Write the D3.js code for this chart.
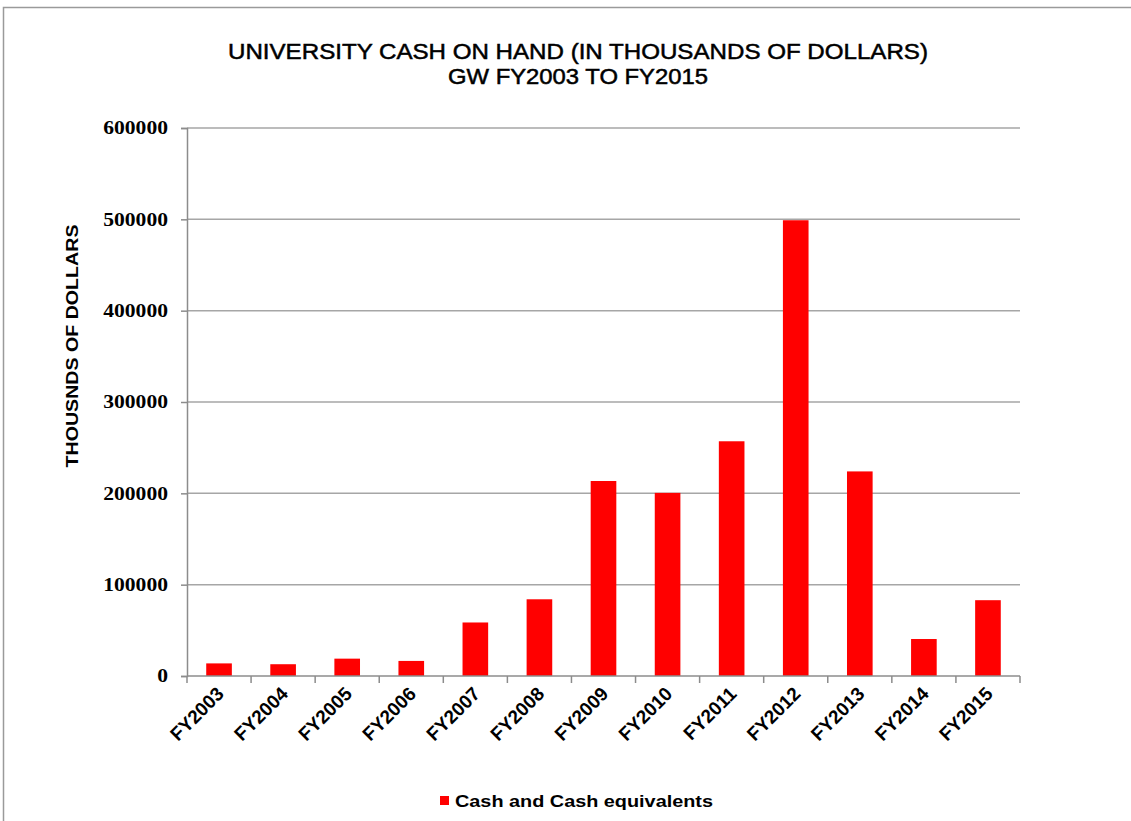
<!DOCTYPE html>
<html>
<head>
<meta charset="utf-8">
<script src="https://cdn.jsdelivr.net/npm/d3@7"></script>
<style>
    body { margin: 0; background: #fff; }
    svg { display: block; }
</style>
</head>
<body>
<script>
//chart data
var years = ["FY2003", "FY2004", "FY2005", "FY2006", "FY2007", "FY2008", "FY2009",
    "FY2010", "FY2011", "FY2012", "FY2013", "FY2014", "FY2015"];
var cashValues = [13800, 12900, 19000, 16500, 58600, 84000, 213500,
    200500, 257000, 499000, 224000, 40500, 83000];
var yTicks = [0, 100000, 200000, 300000, 400000, 500000, 600000];
var titleLines = ["UNIVERSITY CASH ON HAND (IN THOUSANDS OF DOLLARS)", "GW FY2003 TO FY2015"];
var seriesName = "Cash and Cash equivalents";

window.onload = drawChart();

function drawChart(){
    var width = 1131,
        height = 821,
        left = 187,
        right = 1020,
        top = 128,
        bottom = 676;

    var svg = d3.select("body")
        .append("svg")
        .attr("width", width)
        .attr("height", height);

    //outer frame
    svg.append("rect")
        .attr("x", 3.5)
        .attr("y", 7.5)
        .attr("width", 1140)
        .attr("height", 830)
        .attr("fill", "none")
        .attr("stroke", "#9a9a9a")
        .attr("stroke-width", 1.5);

    //scales
    var x = d3.scaleBand()
        .domain(years)
        .range([left, right])
        .paddingInner(0.6)
        .paddingOuter(0.3);

    var yScale = d3.scaleLinear()
        .domain([0, 600000])
        .range([bottom, top]);

    //gridlines
    svg.selectAll(".grid")
        .data(yTicks.slice(1))
        .enter()
        .append("line")
        .attr("class", "grid")
        .attr("x1", left)
        .attr("x2", right)
        .attr("y1", function(d){ return yScale(d); })
        .attr("y2", function(d){ return yScale(d); })
        .attr("stroke", "#a6a6a6")
        .attr("stroke-width", 1.5);

    //bars
    svg.selectAll(".bar")
        .data(cashValues)
        .enter()
        .append("rect")
        .attr("class", "bar")
        .attr("x", function(d, i){ return x(years[i]); })
        .attr("width", x.bandwidth())
        .attr("y", function(d){ return yScale(d); })
        .attr("height", function(d){ return bottom - yScale(d); })
        .attr("fill", "#ff0000");

    //y axis
    var yAxis = d3.axisLeft(yScale)
        .tickValues(yTicks)
        .tickFormat(d3.format("d"))
        .tickSize(6)
        .tickPadding(13);

    var yG = svg.append("g")
        .attr("transform", "translate(" + left + ",0)")
        .call(yAxis);
    yG.select(".domain").attr("stroke", "#8c8c8c").attr("stroke-width", 1.5);
    yG.selectAll(".tick line").attr("stroke", "#8c8c8c").attr("stroke-width", 1.5);
    yG.selectAll(".tick text")
        .attr("font-family", "'Liberation Serif', 'Times New Roman', serif")
        .attr("font-weight", "bold")
        .attr("font-size", 18)
        .attr("fill", "#000")
        .attr("textLength", function(d){ return String(d).length * 10.8; })
        .attr("lengthAdjust", "spacingAndGlyphs");

    //x axis with ticks on category boundaries
    var xG = svg.append("g")
        .attr("transform", "translate(0," + bottom + ")");
    xG.append("line")
        .attr("x1", left)
        .attr("x2", right)
        .attr("stroke", "#8c8c8c")
        .attr("stroke-width", 1.5);
    var step = (right - left) / years.length;
    xG.selectAll(".xtick")
        .data(d3.range(years.length + 1))
        .enter()
        .append("line")
        .attr("class", "xtick")
        .attr("x1", function(d){ return left + d * step; })
        .attr("x2", function(d){ return left + d * step; })
        .attr("y1", 0)
        .attr("y2", 7)
        .attr("stroke", "#8c8c8c")
        .attr("stroke-width", 1.5);
    xG.selectAll(".xlabel")
        .data(years)
        .enter()
        .append("text")
        .attr("class", "xlabel")
        .attr("text-anchor", "end")
        .attr("transform", function(d){
            var cx = x(d) + x.bandwidth() / 2 + 6;
            return "translate(" + cx + ",19) rotate(-45)";
        })
        .attr("font-family", "'Liberation Sans', Arial, sans-serif")
        .attr("font-weight", "bold")
        .attr("font-size", 19)
        .attr("fill", "#000")
        .text(function(d){ return d; });

    //title
    var titleFont = "'Liberation Sans Narrow', 'Arial Narrow', 'Liberation Sans', sans-serif";
    svg.append("text")
        .attr("x", 578)
        .attr("y", 59)
        .attr("text-anchor", "middle")
        .attr("font-family", titleFont)
        .attr("font-size", 22)
        .attr("stroke", "#000")
        .attr("stroke-width", 0.5)
        .attr("textLength", 700)
        .attr("lengthAdjust", "spacingAndGlyphs")
        .text(titleLines[0]);
    svg.append("text")
        .attr("x", 578)
        .attr("y", 84)
        .attr("text-anchor", "middle")
        .attr("font-family", titleFont)
        .attr("font-size", 22)
        .attr("stroke", "#000")
        .attr("stroke-width", 0.5)
        .attr("textLength", 260)
        .attr("lengthAdjust", "spacingAndGlyphs")
        .text(titleLines[1]);

    //y axis title
    svg.append("text")
        .attr("transform", "translate(78,346) rotate(-90)")
        .attr("text-anchor", "middle")
        .attr("font-family", "'Liberation Sans', Arial, sans-serif")
        .attr("font-weight", "bold")
        .attr("font-size", 17)
        .attr("textLength", 243)
        .attr("lengthAdjust", "spacingAndGlyphs")
        .text("THOUSNDS OF DOLLARS");

    //legend
    svg.append("rect")
        .attr("x", 440)
        .attr("y", 796)
        .attr("width", 9)
        .attr("height", 9)
        .attr("fill", "#ff0000");
    svg.append("text")
        .attr("x", 455)
        .attr("y", 807)
        .attr("font-family", "'Liberation Sans', Arial, sans-serif")
        .attr("font-weight", "bold")
        .attr("font-size", 17)
        .attr("textLength", 258)
        .attr("lengthAdjust", "spacingAndGlyphs")
        .text(seriesName);
};
</script>
</body>
</html>
